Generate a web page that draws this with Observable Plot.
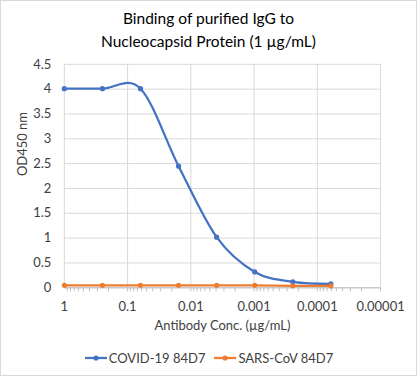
<!DOCTYPE html>
<html><head><meta charset="utf-8">
<script src="https://cdn.jsdelivr.net/npm/d3@7"></script>
<script src="https://cdn.jsdelivr.net/npm/@observablehq/plot@0.6"></script>
<style>
html,body{margin:0;padding:0;background:#fff;}
#wrap{position:relative;width:417px;height:376px;box-sizing:border-box;border:1px solid #d9d9d9;font-family:Lato,"Liberation Sans",sans-serif;color:#404040;overflow:hidden;}
#chart{position:absolute;left:-1px;top:-1px;}
#title{position:absolute;left:0;top:6px;width:415px;text-align:center;font-size:15.5px;line-height:23px;color:#000;}
#legend{position:absolute;top:349px;left:0;width:415px;display:flex;justify-content:center;gap:8px;font-size:13px;color:#404040;}
.item{display:flex;align-items:center;gap:1px;}
</style></head><body>
<div id="wrap">
<div id="chart"></div>
<div id="title">Binding of purified IgG to<br>Nucleocapsid Protein (1 µg/mL)</div>
<div id="legend"></div>
</div>
<script>
const conc = [1, 0.25, 0.0625, 0.015625, 0.00390625, 0.0009765625, 0.000244140625, 0.00006103515625];
const covid = [4.01, 4.01, 4.01, 2.45, 1.02, 0.32, 0.12, 0.08];
const sars = [0.05, 0.05, 0.05, 0.05, 0.05, 0.05, 0.04, 0.04];
const seriesNames = ["COVID-19 84D7", "SARS-CoV 84D7"];
const seriesColors = ["#4472C4", "#ED7D31"];
const xTicks = [1, 0.1, 0.01, 0.001, 0.0001, 0.00001];
const xTickLabels = ["1", "0.1", "0.01", "0.001", "0.0001", "0.00001"];
const yTicks = [0, 0.5, 1, 1.5, 2, 2.5, 3, 3.5, 4, 4.5];

const data = [];
[covid, sars].forEach((vals, si) => vals.forEach((v, i) => data.push({series: seriesNames[si], x: conc[i], y: v})));
const minor = [];
for (let e = 0; e >= -5; e--) for (let k = 1; k <= 9; k++) { const v = k * Math.pow(10, e - 1); if (v >= 0.00001 && v <= 1) minor.push(v); }
const labelOf = d => { const i = xTicks.findIndex(t => Math.abs(Math.log10(t) - Math.log10(d)) < 1e-6); return i >= 0 ? xTickLabels[i] : ""; };

const plot = Plot.plot({
  width: 417, height: 376,
  marginLeft: 64, marginRight: 36, marginTop: 64, marginBottom: 88,
  style: {fontFamily: "Lato, 'Liberation Sans', sans-serif", fontSize: "13px", color: "#404040", background: "transparent"},
  x: {type: "log", domain: [1, 0.00001], label: null},
  y: {domain: [0, 4.5], label: null},
  color: {domain: seriesNames, range: seriesColors},
  marks: [
    Plot.gridY(yTicks, {stroke: "#d9d9d9", strokeOpacity: 1, strokeWidth: 1}),
    Plot.gridX(xTicks, {stroke: "#d9d9d9", strokeOpacity: 1, strokeWidth: 1}),
    Plot.axisX({ticks: minor, tickSize: 4, stroke: "#bfbfbf", strokeOpacity: 1, text: null, label: null}),
    Plot.axisX({ticks: xTicks, tickSize: 0, tickPadding: 14, tickFormat: labelOf, label: null, fontSize: 13, fill: "#404040"}),
    Plot.axisY({ticks: yTicks, tickSize: 0, tickPadding: 13, tickFormat: d => String(d), label: null, fontSize: 13, fill: "#404040"}),
    Plot.ruleY([0], {stroke: "#bfbfbf"}),
    Plot.line(data, {x: "x", y: "y", stroke: "series", z: "series", curve: "cardinal", strokeWidth: 2.25}),
    Plot.dot(data, {x: "x", y: "y", fill: "series", r: 2.6, stroke: null}),
    Plot.text(["Antibody Conc. (µg/mL)"], {frameAnchor: "bottom", dy: 42, text: d => d, fontSize: 13, fill: "#404040"}),
    Plot.text(["OD450 nm"], {frameAnchor: "left", dx: -42, rotate: -90, text: d => d, fontSize: 13, fill: "#404040"})
  ]
});
document.getElementById("chart").appendChild(plot);

const legend = document.getElementById("legend");
seriesNames.forEach((n, i) => {
  const item = document.createElement("div"); item.className = "item";
  item.innerHTML = `<svg width="24" height="10"><line x1="1" x2="23" y1="5" y2="5" stroke="${seriesColors[i]}" stroke-width="2.25"/><circle cx="12" cy="5" r="2.6" fill="${seriesColors[i]}"/></svg><span>${n}</span>`;
  legend.appendChild(item);
});
</script>
</body></html>
